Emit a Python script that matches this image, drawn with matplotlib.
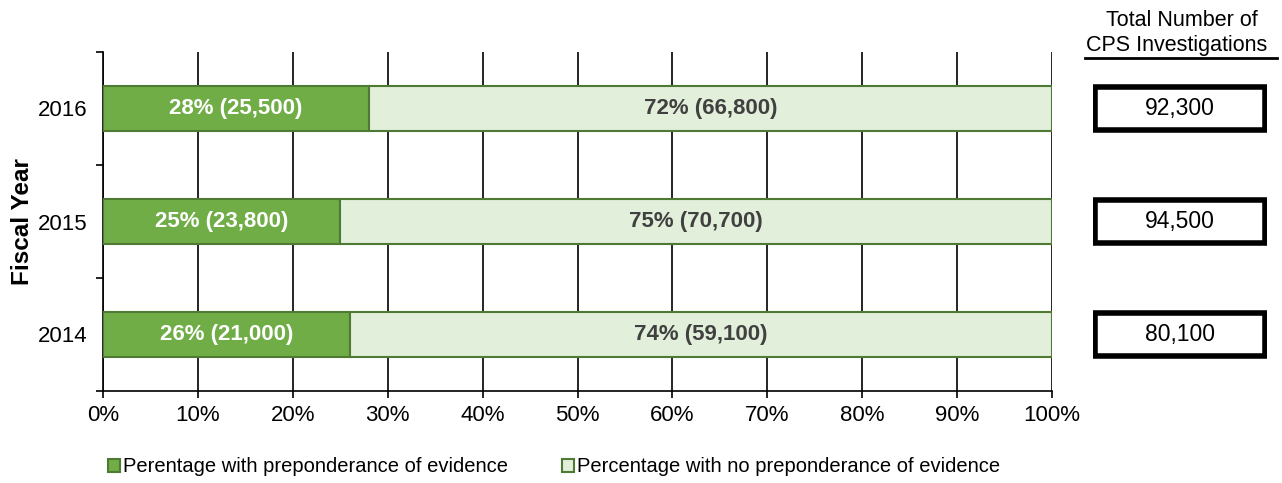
import matplotlib.pyplot as plt
from matplotlib.patches import Rectangle
from matplotlib.lines import Line2D
import numpy as np

plt.rcParams['font.family'] = ['Liberation Sans', 'DejaVu Sans']

years = ['2014', '2015', '2016']
pct_evidence = [26, 25, 28]
pct_no_evidence = [74, 75, 72]
n_evidence = ['21,000', '23,800', '25,500']
n_no_evidence = ['59,100', '70,700', '66,800']
totals = ['80,100', '94,500', '92,300']

dark_green = '#70AD47'
light_green = '#E2EFDA'
edge_green = '#4F7A33'

W, H = 1282, 483
fig = plt.figure(figsize=(W / 100, H / 100), dpi=100)
left, right, top, bottom = 103, 1052, 52, 391
ax = fig.add_axes([left / W, 1 - bottom / H, (right - left) / W, (bottom - top) / H])

y = np.arange(len(years))
bar_h = 0.39
ax.barh(y, pct_evidence, height=bar_h, color=dark_green, edgecolor=edge_green, linewidth=1.5, zorder=3,
        label='Perentage with preponderance of evidence')
ax.barh(y, pct_no_evidence, left=pct_evidence, height=bar_h, color=light_green, edgecolor=edge_green,
        linewidth=1.5, zorder=3, label='Percentage with no preponderance of evidence')

for i in range(len(years)):
    ax.text(pct_evidence[i] / 2, y[i], f'{pct_evidence[i]}% ({n_evidence[i]})', ha='center', va='center',
            color='white', fontweight='bold', fontsize=16, zorder=4)
    ax.text(pct_evidence[i] + pct_no_evidence[i] / 2, y[i], f'{pct_no_evidence[i]}% ({n_no_evidence[i]})',
            ha='center', va='center', color='#404040', fontweight='bold', fontsize=16, zorder=4)

ax.set_xlim(0, 100)
ax.set_ylim(-0.5, 2.5)
ax.set_xticks(np.arange(0, 101, 10))
ax.set_xticklabels([f'{v}%' for v in range(0, 101, 10)], fontsize=16)
ax.set_yticks(y)
ax.set_yticklabels(years, fontsize=16)
ax.set_yticks([-0.5, 0.5, 1.5, 2.5], minor=True)
ax.tick_params(axis='y', which='major', length=0, pad=11)
ax.tick_params(axis='y', which='minor', length=5, width=1.2)
ax.tick_params(axis='x', length=5, width=1.2, pad=5)
ax.grid(axis='x', color='black', linewidth=1.2, zorder=0)
ax.set_axisbelow(True)
for s in ['top', 'right']:
    ax.spines[s].set_visible(False)
for s in ['left', 'bottom']:
    ax.spines[s].set_linewidth(1.2)
ax.set_ylabel('Fiscal Year', fontsize=17.5, fontweight='bold', va='center')
ax.yaxis.set_label_coords(-0.0845, 0.5)

# totals column on the right
tax = fig.add_axes([1093 / W, 1 - bottom / H, (1267 - 1093) / W, (bottom - top) / H], sharey=ax)
tax.set_xlim(0, 1)
tax.axis('off')
box_h = 0.38
for i in range(len(years)):
    tax.add_patch(Rectangle((0.01, y[i] - box_h / 2), 0.98, box_h, facecolor='white',
                            edgecolor='black', linewidth=4))
    tax.text(0.5, y[i], totals[i], ha='center', va='center', fontsize=16.5)

fig.text(1182 / W, 1 - 21 / H, 'Total Number of', ha='center', va='center', fontsize=15.5)
fig.text(1177 / W, 1 - 46 / H, 'CPS Investigations', ha='center', va='center', fontsize=15.5)
fig.add_artist(Line2D([1085 / W, 1277 / W], [1 - 58 / H, 1 - 58 / H], color='black', linewidth=2))

handles, labels = ax.get_legend_handles_labels()
fig.legend(handles, labels, loc='center', bbox_to_anchor=(554 / W, 1 - 467 / H), ncol=2, frameon=False,
           fontsize=14.5, handlelength=0.6, handleheight=0.6, handletextpad=0.15, columnspacing=2.7)

fig.savefig('out.png', dpi=100)
